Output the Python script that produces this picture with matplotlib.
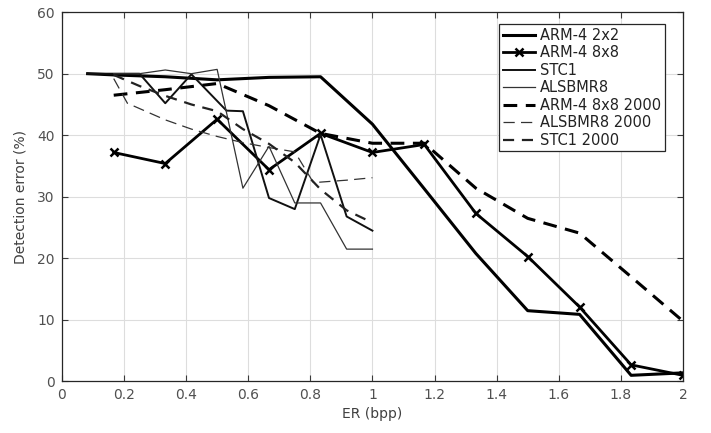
import matplotlib
matplotlib.use("Agg")
import matplotlib.pyplot as plt

plt.rcParams['font.family'] = ['DejaVu Sans']

# ---- data ----
arm2_x = [0.083, 0.167, 0.333, 0.5, 0.667, 0.833, 1.0, 1.167, 1.333, 1.5, 1.667, 1.833, 2.0]
arm2_y = [50.0, 49.8, 49.5, 49.0, 49.4, 49.5, 41.8, 31.3, 20.8, 11.5, 10.9, 1.0, 1.4]

arm8_x = [0.167, 0.333, 0.5, 0.667, 0.833, 1.0, 1.167, 1.333, 1.5, 1.667, 1.833, 2.0]
arm8_y = [37.2, 35.4, 42.6, 34.4, 40.3, 37.2, 38.5, 27.3, 20.3, 12.1, 2.7, 1.0]

stc1_x = [0.083, 0.167, 0.25, 0.333, 0.417, 0.53, 0.583, 0.667, 0.75, 0.833, 0.917, 1.0]
stc1_y = [50.0, 50.0, 50.0, 45.2, 49.9, 44.0, 43.9, 29.8, 28.0, 40.1, 26.8, 24.5]

als_x = [0.167, 0.25, 0.333, 0.417, 0.5, 0.583, 0.667, 0.75, 0.833, 0.917, 1.0]
als_y = [50.0, 50.0, 50.6, 50.0, 50.7, 31.4, 38.2, 29.0, 29.0, 21.5, 21.5]

arm8k_x = [0.167, 0.333, 0.5, 0.667, 0.833, 1.0, 1.167, 1.333, 1.5, 1.667, 1.833, 2.0]
arm8k_y = [46.5, 47.4, 48.4, 44.8, 40.3, 38.7, 38.7, 31.4, 26.5, 24.1, 17.0, 9.8]

als2k_x = [0.167, 0.211, 0.333, 0.417, 0.5, 0.583, 0.667, 0.75, 0.81, 0.917, 1.0]
als2k_y = [49.2, 45.2, 42.5, 41.0, 39.8, 38.8, 38.0, 37.3, 32.3, 32.7, 33.1]

stc2k_x = [0.167, 0.25, 0.333, 0.417, 0.5, 0.583, 0.667, 0.75, 0.833, 0.917, 1.0]
stc2k_y = [49.8, 48.0, 46.4, 45.0, 43.9, 41.0, 38.6, 35.6, 31.2, 27.8, 25.8]

xticks = [0, 0.2, 0.4, 0.6, 0.8, 1, 1.2, 1.4, 1.6, 1.8, 2]
xticklabels = ['0', '0.2', '0.4', '0.6', '0.8', '1', '1.2', '1.4', '1.6', '1.8', '2']
yticks = [0, 10, 20, 30, 40, 50, 60]

fig = plt.figure(figsize=(7.11, 4.33), dpi=100)
ax = fig.add_axes([0.087, 0.119, 0.8736, 0.853])

ax.plot(arm2_x, arm2_y, color='black', lw=2.2, label='ARM-4 2x2')
ax.plot(arm8_x, arm8_y, color='black', lw=2.0, marker='x', ms=6, mew=1.8, label='ARM-4 8x8')
ax.plot(stc1_x, stc1_y, color='#111111', lw=1.4, label='STC1')
ax.plot(als_x, als_y, color='#333333', lw=0.9, label='ALSBMR8')
ax.plot(arm8k_x, arm8k_y, color='black', lw=2.2, dashes=(4.5, 2.8), label='ARM-4 8x8 2000')
ax.plot(als2k_x, als2k_y, color='#333333', lw=0.9, dashes=(9, 5), label='ALSBMR8 2000')
ax.plot(stc2k_x, stc2k_y, color='#222222', lw=1.6, dashes=(5, 3.5), label='STC1 2000')

ax.set_xlim(0, 2)
ax.set_ylim(0, 60)
ax.set_xticks(xticks)
ax.set_xticklabels(xticklabels)
ax.set_yticks(yticks)
ax.grid(True, color='#dddddd', lw=0.8)
ax.set_axisbelow(True)
ax.tick_params(direction='in', top=True, right=True, length=4, width=0.8,
               colors='#3a3a3a', labelcolor='#505050', labelsize=10, pad=5)
for s in ax.spines.values():
    s.set_color('#262626')
    s.set_linewidth(0.9)

ax.set_xlabel('ER (bpp)', fontsize=10, color='#404040', labelpad=3)
ax.set_ylabel('Detection error (%)', fontsize=10, color='#404040')
ax.yaxis.set_label_coords(-0.055, 0.5)

leg = ax.legend(loc='upper right', bbox_to_anchor=(0.971, 0.9675), fontsize=10.5,
                frameon=True, fancybox=False, edgecolor='#262626', framealpha=1,
                handlelength=2.2, handletextpad=0.35, labelspacing=0.17,
                borderpad=0.25, borderaxespad=0.0, numpoints=1)
leg.get_frame().set_linewidth(0.9)
for t in leg.get_texts():
    t.set_color('#222222')

fig.savefig('out.png', dpi=100)
